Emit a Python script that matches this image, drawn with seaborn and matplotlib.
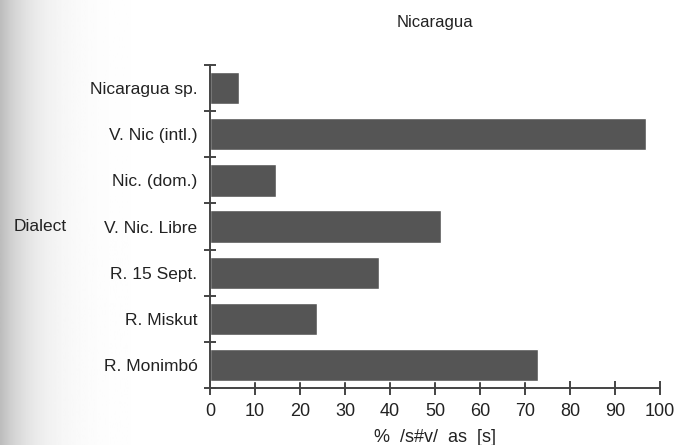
import matplotlib
matplotlib.use("Agg")
import matplotlib.pyplot as plt
import numpy as np
import pandas as pd
import seaborn as sns

dialects = ["Nicaragua sp.", "V. Nic (intl.)", "Nic. (dom.)", "V. Nic. Libre",
            "R. 15 Sept.", "R. Miskut", "R. Monimbó"]
pct_s = [6.5, 96.8, 14.6, 51.4, 37.5, 23.8, 72.8]
x_ticks = [0, 10, 20, 30, 40, 50, 60, 70, 80, 90, 100]

df = pd.DataFrame({"Dialect": dialects, "pct": pct_s})

sns.set_style("white")
plt.rcParams['font.family'] = ['Liberation Sans', 'DejaVu Sans']
ink = "#222222"

fig = plt.figure(figsize=(6.84, 4.45), dpi=100)

# scanned-page shadow on the left edge
bg = fig.add_axes([0, 0, 1, 1], zorder=-1)
grad = np.linspace(0, 1, 400)
shade = 1 - 0.26 * np.exp(-grad / 0.045)
bg.imshow(shade[None, :], cmap="gray", vmin=0, vmax=1, aspect="auto",
          extent=[0, 1, 0, 1])
bg.axis("off")

ax = fig.add_axes([0.307, 0.128, 0.658, 0.726])
ax.patch.set_alpha(0)
sns.barplot(data=df, x="pct", y="Dialect", order=dialects, color="#555555",
            saturation=1, width=0.7, ax=ax)

ax.set_xlim(0, 100)
ax.set_ylim(6.5, -0.5)
ax.set_xticks(x_ticks)
ax.set_yticks(np.arange(-0.5, 7, 1), minor=True)
ax.tick_params(left=True, bottom=True, which="both")
ax.tick_params(axis="y", which="major", length=0, pad=9, labelsize=12.5, labelcolor=ink)
ax.tick_params(axis="y", which="minor", length=9, width=1.4, direction="inout", color="#444444")
ax.tick_params(axis="x", which="major", length=10, width=1.4, direction="inout",
               color="#444444", pad=6, labelsize=13, labelcolor=ink)

for s in ["top", "right"]:
    ax.spines[s].set_visible(False)
for s in ["left", "bottom"]:
    ax.spines[s].set_color("#444444")
    ax.spines[s].set_linewidth(1.4)

ax.set_xlabel("%  /s#v/  as  [s]", fontsize=13, color=ink, labelpad=6)
ax.set_ylabel("Dialect", fontsize=12.5, color=ink, rotation=0, ha="right", va="center")
ax.yaxis.set_label_coords(-0.318, 0.5)
ax.set_title("Nicaragua", fontsize=12, color=ink, pad=27)

fig.savefig("out.png", dpi=100)
